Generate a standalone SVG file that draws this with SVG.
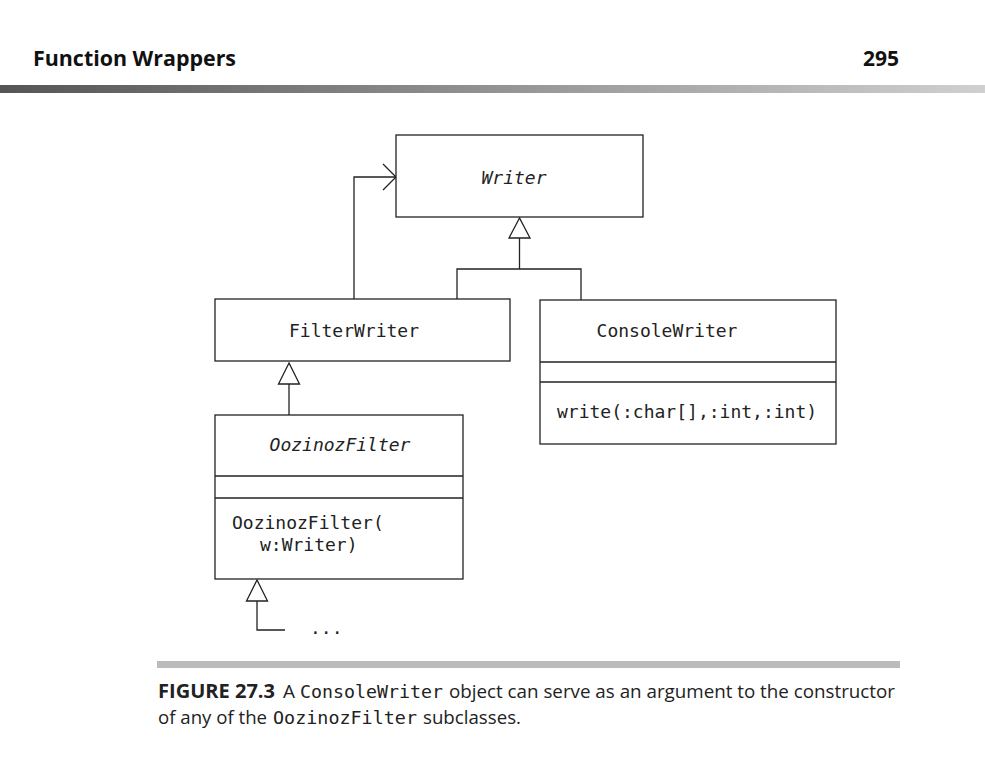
<svg xmlns="http://www.w3.org/2000/svg" width="985" height="757" viewBox="0 0 985 757">
<defs>
<linearGradient id="hdr" x1="0" y1="0" x2="1" y2="0">
<stop offset="0" stop-color="#555"/>
<stop offset="1" stop-color="#d0d0d0"/>
</linearGradient>
<style>
.box{fill:#fff;stroke:#222;stroke-width:1.3}
.ln{fill:none;stroke:#222;stroke-width:1.3}
.tri{fill:#fff;stroke:#222;stroke-width:1.3}
.mono{font-family:"DejaVu Sans Mono","Liberation Mono",monospace;font-size:18px;fill:#222}
.it{font-style:italic}
.hd{font-family:"Open Sans","Liberation Sans",sans-serif;font-weight:bold;font-size:21px;fill:#111}
.cap{font-family:"Open Sans","Liberation Sans",sans-serif;font-size:19px;fill:#222}
.capm{font-family:"DejaVu Sans Mono","Liberation Mono",monospace;font-size:17px;fill:#222}
</style>
</defs>
<rect width="985" height="757" fill="#fff"/>
<text class="hd" x="33" y="66" textLength="203" lengthAdjust="spacingAndGlyphs">Function Wrappers</text>
<text class="hd" x="899" y="66" text-anchor="end">295</text>
<rect x="0" y="85" width="985" height="8" fill="url(#hdr)"/>

<g id="connectors">
<polyline class="ln" points="354,299 354,177 396,177"/>
<polyline class="ln" points="383,164 396,177 383,190"/>
<line class="ln" x1="519.5" y1="238" x2="519.5" y2="269"/>
<polyline class="ln" points="457,299 457,269 581,269 581,300"/>
<polygon class="tri" points="519.5,218 509,238 530,238"/>
<line class="ln" x1="289" y1="384" x2="289" y2="415"/>
<polygon class="tri" points="289,363 278.5,384 299.5,384"/>
<polyline class="ln" points="257,601 257,630 285,630"/>
<polygon class="tri" points="257,580 246.5,601 267.5,601"/>
</g>

<g id="writer">
<rect class="box" x="396" y="135" width="247" height="82"/>
<text class="mono it" x="514" y="184" text-anchor="middle">Writer</text>
</g>

<g id="filterwriter">
<rect class="box" x="215" y="299" width="295" height="62"/>
<text class="mono" x="354" y="337" text-anchor="middle">FilterWriter</text>
</g>

<g id="consolewriter">
<rect class="box" x="540" y="300" width="296" height="144"/>
<line class="ln" x1="540" y1="362" x2="836" y2="362"/>
<line class="ln" x1="540" y1="382" x2="836" y2="382"/>
<text class="mono" x="667" y="337" text-anchor="middle">ConsoleWriter</text>
<text class="mono" x="557" y="418">write(:char[],:int,:int)</text>
</g>

<g id="oozinozfilter">
<rect class="box" x="215" y="415" width="248" height="164"/>
<line class="ln" x1="215" y1="476" x2="463" y2="476"/>
<line class="ln" x1="215" y1="498" x2="463" y2="498"/>
<text class="mono it" x="340" y="451" text-anchor="middle">OozinozFilter</text>
<text class="mono" x="232" y="529">OozinozFilter(</text>
<text class="mono" x="260" y="551">w:Writer)</text>
</g>

<g id="more">
<text class="mono" x="310" y="634">...</text>
</g>

<rect x="157" y="661" width="743" height="7" fill="#bbb"/>
<text class="cap" x="158" y="698" font-weight="bold" textLength="117" lengthAdjust="spacingAndGlyphs">FIGURE 27.3</text>
<text class="cap" x="283" y="698">A</text>
<text class="capm" x="300" y="698" textLength="143" lengthAdjust="spacingAndGlyphs">ConsoleWriter</text>
<text class="cap" x="449" y="698" textLength="446" lengthAdjust="spacingAndGlyphs">object can serve as an argument to the constructor</text>
<text class="cap" x="158" y="724" textLength="109" lengthAdjust="spacingAndGlyphs">of any of the</text>
<text class="capm" x="273" y="724" textLength="144" lengthAdjust="spacingAndGlyphs">OozinozFilter</text>
<text class="cap" x="423" y="724" textLength="98" lengthAdjust="spacingAndGlyphs">subclasses.</text>
</svg>
